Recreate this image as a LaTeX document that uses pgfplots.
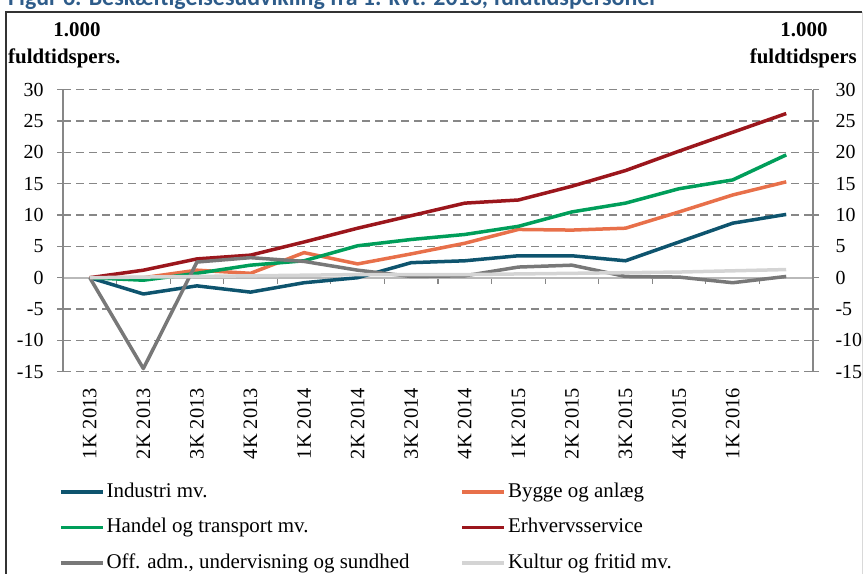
\documentclass[border=0pt]{standalone}
\usepackage{fontspec}
\setmainfont{Liberation Serif}
\newfontfamily\titlefont{Carlito}
\usepackage{pgfplots}
\usepackage{pgfplotstable}
\pgfplotsset{compat=1.18}

\definecolor{cInd}{RGB}{14,84,110}
\definecolor{cByg}{RGB}{232,112,74}
\definecolor{cHan}{RGB}{0,158,90}
\definecolor{cErh}{RGB}{155,22,28}
\definecolor{cOff}{RGB}{120,120,120}
\definecolor{cKul}{RGB}{212,212,212}
\definecolor{gridc}{RGB}{135,135,135}
\definecolor{zeroc}{RGB}{185,185,185}
\definecolor{titleblue}{RGB}{46,92,138}

\pgfplotstableread{
x ind byg han erh off kul
0 0 0 0 0 0 0
1 -2.6 0 -0.4 1.2 -14.5 0.1
2 -1.3 1.2 0.7 3.0 2.5 0.2
3 -2.3 0.7 2.0 3.6 3.2 0.3
4 -0.8 4.0 2.7 5.7 2.6 0.4
5 0.0 2.2 5.1 7.9 1.2 0.5
6 2.4 3.8 6.1 9.9 0.2 0.5
7 2.7 5.5 6.9 11.9 0.3 0.5
8 3.5 7.7 8.2 12.4 1.7 0.6
9 3.5 7.6 10.5 14.6 2.0 0.7
10 2.7 7.9 11.9 17.1 0.2 0.8
11 5.7 10.5 14.2 20.2 0.1 0.9
12 8.7 13.2 15.6 23.2 -0.8 1.1
13 10.1 15.3 19.6 26.2 0.2 1.3
}\datatable

\newcommand{\tickfont}{\fontsize{20}{20}\selectfont}

\begin{document}
\begin{tikzpicture}[x=1bp,y=1bp]
% background axis: right y axis and the zero line with category ticks
\begin{axis}[
  at={(63bp,-371.7bp)}, anchor=south west,
  scale only axis, width=750bp, height=282bp,
  xmin=-0.5, xmax=13.5, ymin=-15, ymax=30,
  axis x line=middle, axis y line=right,
  x axis line style={draw=zeroc, line width=2bp, -},
  y axis line style={draw=gridc, line width=1.5bp, -},
  xtick={0.5,1.5,...,12.5}, xticklabels={},
  ytick={-15,-10,...,30},
  tick align=outside,
  x tick style={draw=gridc, line width=1.2bp},
  y tick style={draw=gridc, line width=1.2bp},
  major tick length=6bp,
  yticklabel style={font=\tickfont, anchor=west, xshift=13bp},
  /pgf/number format/assume math mode=true,
]
\end{axis}
% main axis
\begin{axis}[
  at={(63bp,-371.7bp)}, anchor=south west,
  scale only axis, width=750bp, height=282bp,
  xmin=-0.5, xmax=13.5, ymin=-15, ymax=30,
  axis x line*=bottom, axis y line*=left,
  x axis line style={draw=none},
  y axis line style={draw=gridc, line width=1.5bp, -},
  xtick={0,...,12},
  xticklabels={1K 2013,2K 2013,3K 2013,4K 2013,1K 2014,2K 2014,3K 2014,4K 2014,1K 2015,2K 2015,3K 2015,4K 2015,1K 2016},
  xticklabel style={rotate=90, anchor=east, font=\fontsize{20.5}{20.5}\selectfont, xshift=-7bp},
  x tick style={draw=none},
  ytick={-15,-10,-5,5,10,15,20,25,30},
  extra y ticks={0},
  extra y tick style={grid=none},
  ymajorgrids,
  grid style={draw=gridc, line width=1.4bp, dash pattern=on 8bp off 5bp},
  tick align=outside,
  y tick style={draw=gridc, line width=1.2bp},
  major tick length=6bp,
  yticklabel style={font=\tickfont, anchor=east, xshift=-10bp},
  /pgf/number format/assume math mode=true,
  legend columns=2,
  legend cell align=left,
  legend style={at={(-0.0055,-0.384)}, anchor=north west, draw=none, fill=none,
    font=\fontsize{21}{21}\selectfont, inner sep=0pt, row sep=11.5bp,
    nodes={inner sep=2bp, text height=15bp, text depth=5bp}},
  legend image code/.code={\draw[#1, line width=3.5bp] (0bp,0bp) -- (42bp,0bp);},
  every axis plot/.append style={line width=3.5bp, line join=round, mark=none},
]
\addplot[cInd] table[x=x,y=ind]{\datatable};
\addlegendentry{\makebox[352bp][l]{Industri mv.}}
\addplot[cByg] table[x=x,y=byg]{\datatable};
\addlegendentry{Bygge og anlæg}
\addplot[cHan] table[x=x,y=han]{\datatable};
\addlegendentry{\makebox[352bp][l]{Handel og transport mv.}}
\addplot[cErh] table[x=x,y=erh]{\datatable};
\addlegendentry{Erhvervsservice}
\addplot[cOff] table[x=x,y=off]{\datatable};
\addlegendentry{\makebox[352bp][l]{Off. adm., undervisning og sundhed}}
\addplot[cKul] table[x=x,y=kul]{\datatable};
\addlegendentry{Kultur og fritid mv.}
\end{axis}

% unit labels
\node[font=\bfseries\fontsize{21}{21}\selectfont, anchor=center] at (77,-30) {1.000};
\node[font=\bfseries\fontsize{21}{21}\selectfont, anchor=west, inner sep=0] at (8,-58) {fuldtidspers.};
\node[font=\bfseries\fontsize{21}{21}\selectfont, anchor=center] at (804,-30) {1.000};
\node[font=\bfseries\fontsize{21}{21}\selectfont, anchor=east, inner sep=0] at (857,-58) {fuldtidspers};

% title (cut by the frame of the picture, as in the reference)
\node[anchor=base west, inner sep=0, text=titleblue, font=\titlefont\bfseries\fontsize{24}{24}\selectfont] at (8,-6) {Figur 6. Beskæftigelsesudvikling fra 1. kvt. 2013, fuldtidspersoner};

% frame
\draw[line width=1.3bp, black!80] (6,-600) -- (6,-12) -- (862,-12);
\draw[line width=1bp, black!15] (862.5,-12) -- (862.5,-600);

\pgfresetboundingbox
\useasboundingbox (0,0) rectangle (864,-574);
\end{tikzpicture}
\end{document}
